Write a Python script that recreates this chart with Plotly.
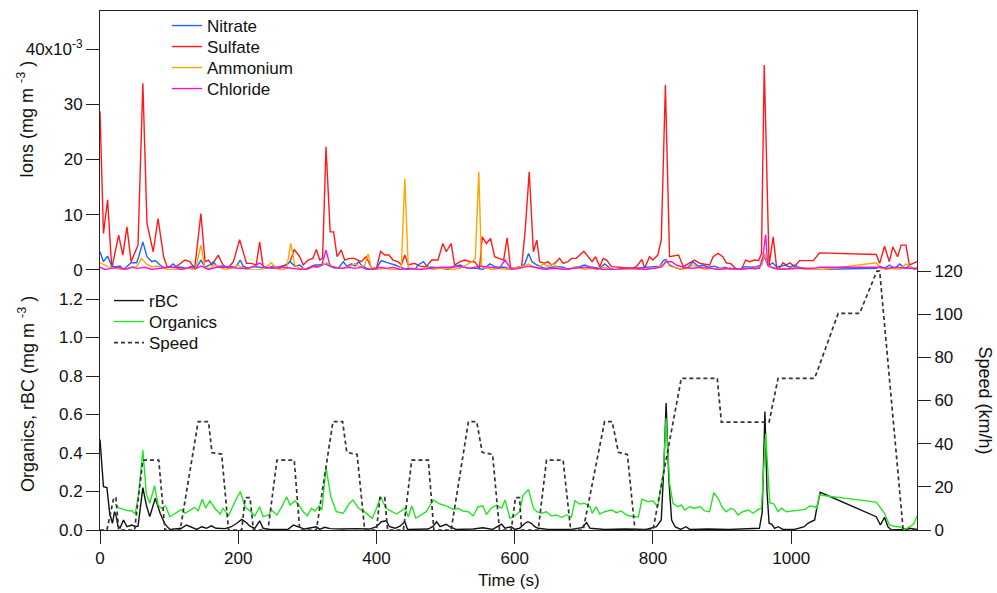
import plotly.graph_objects as go

# ---------------- data ----------------
# Ions (values in 10^-3 mg m^-3), time in s
sulfate_t = [0,5,11,17,27,33,39,45,55,62,68,77,84,92,97,108,123,130,137,146,152,157,162,171,178,185,193,202,212,219,226,231,236,248,260,270,275,281,289,294,301,308,313,318,322,327,333,338,343,349,354,361,368,373,378,385,393,400,406,412,418,424,431,436,441,446,455,463,472,480,489,496,501,508,513,521,528,535,542,549,553,559,565,571,578,584,589,594,600,610,615,621,627,632,636,643,648,653,658,665,670,677,682,689,700,707,712,717,723,728,733,740,750,759,769,776,784,788,795,800,807,812,818,824,831,837,844,851,860,868,875,882,887,894,901,906,913,921,928,934,940,947,953,957,961,968,974,979,983,988,993,998,1005,1012,1022,1032,1041,1123,1128,1135,1142,1147,1154,1159,1166,1171,1178,1182]
sulfate_v = [28.7,6.6,12.7,0.3,6.3,2.7,7.8,1.5,4.5,33.8,8.4,3.3,9.3,2.4,0.6,0.4,1.8,1.5,0.3,10.2,1.5,1.8,0.9,2.7,0.9,0.3,1.5,5.5,1.2,1.2,0.9,5.1,0.6,0.3,0.6,0.9,1.5,3.7,2.4,0.9,1.8,2.1,3.7,1.8,2.1,22.3,6.9,6.9,2.4,3.6,1.8,2.1,2.1,1.8,1.5,2.4,0.3,0.3,3.4,2.7,2.7,1.8,1.5,0.9,2.7,0.9,1.2,0.7,0.6,1.8,1.8,4.8,3.3,4.8,0.9,1.5,1.8,1.5,1.5,0.3,6.0,4.8,5.7,2.4,2.1,1.8,5.8,0.4,0.3,0.6,7.0,17.8,3.3,5.4,1.5,1.2,1.5,0.9,1.2,2.1,1.2,1.5,2.1,2.1,3.4,2.4,1.5,2.4,0.6,2.1,1.8,0.6,0.5,0.5,0.3,0.6,1.9,0.3,2.4,1.8,2.7,5.4,33.5,2.4,2.5,2.7,0.6,1.1,1.8,1.2,1.1,0.9,2.4,3.0,2.4,1.3,1.1,0.1,0.1,1.8,1.5,1.8,1.7,3.0,37.1,0.9,6.0,0.3,0.3,1.3,0.9,1.3,0.6,1.7,1.7,1.7,3.1,2.8,1.2,4.3,1.5,4.2,2.4,4.5,4.5,0.9,1.3,1.5]

nitrate_t = [0,5,11,17,24,29,34,41,45,53,56,62,68,75,80,87,94,101,106,111,118,125,133,140,146,152,159,164,169,176,182,188,196,203,207,215,222,231,240,251,260,268,275,282,289,296,304,311,318,325,333,340,346,352,357,364,369,374,378,386,393,400,407,415,419,427,434,444,456,460,468,474,482,494,504,511,521,528,535,545,554,564,571,578,586,595,603,610,615,620,625,632,639,646,653,663,670,677,687,694,701,708,716,723,730,738,745,754,764,774,783,793,803,810,815,819,824,831,841,851,858,865,873,880,889,897,904,911,918,925,933,942,950,957,961,967,973,979,986,991,998,1005,1010,1017,1027,1036,1041,1123,1128,1135,1142,1150,1157,1164,1171,1178,1182]
nitrate_v = [3.3,1.5,2.5,0.7,0.6,0.7,0.1,0.9,1.3,1.3,2.4,5.1,2.4,1.5,1.7,0.9,0.3,0.6,1.1,0.5,0.5,0.3,0.7,0.5,1.8,0.5,0.9,1.5,0.7,0.7,0.6,0.5,0.5,1.8,0.7,0.3,0.6,0.5,0.3,0.7,0.3,0.9,1.5,0.7,0.9,0.1,0.6,0.9,0.9,1.1,0.7,0.3,0.5,1.5,0.7,1.1,0.7,1.5,0.9,0.3,0.1,0.3,1.7,1.3,1.2,0.9,0.5,0.1,0.1,0.9,1.5,0.5,0.5,0.3,0.1,0.6,0.9,0.5,0.3,0.3,0.1,1.1,0.6,0.5,0.5,0.1,0.5,0.6,1.2,3.0,1.5,0.9,0.5,0.3,0.5,0.6,0.5,0.1,0.5,0.6,0.9,0.6,0.5,0.3,1.1,0.3,0.0,0.1,0.3,0.3,0.5,0.6,0.7,0.7,1.7,1.9,0.9,0.5,0.1,0.5,1.5,0.7,0.9,0.5,0.7,0.3,0.5,0.1,0.3,0.1,0.6,0.5,0.6,0.9,2.5,0.7,1.3,0.6,0.7,0.9,0.5,0.9,0.5,0.3,0.1,0.1,0.1,0.3,0.7,0.3,0.9,0.3,1.1,0.3,0.7,0.1,0.3]

ammonium_t = [0,12,22,34,46,53,60,67,75,84,92,99,108,118,128,138,146,152,159,166,173,181,190,200,207,214,229,238,248,255,262,270,276,282,289,298,308,316,323,328,335,343,352,361,369,376,383,388,393,403,412,422,431,436,441,446,453,463,472,482,492,501,511,521,530,538,543,548,552,559,569,578,588,596,605,612,620,627,634,641,648,656,663,673,682,692,701,711,721,730,740,750,759,769,779,788,798,807,815,819,824,831,841,851,858,865,875,885,892,901,911,921,930,940,949,957,962,967,974,981,991,1000,1010,1020,1032,1041,1123,1128,1137,1147,1157,1166,1174,1182]
ammonium_v = [1.3,0.6,0.3,0.0,0.5,0.6,2.1,1.1,0.6,0.7,0.3,0.1,0.0,0.1,0.3,0.0,4.5,0.3,0.3,0.9,0.5,0.1,0.3,0.9,0.3,0.0,0.0,0.3,1.3,0.3,0.0,0.3,4.8,0.9,0.3,0.1,0.5,0.6,0.9,1.3,0.7,0.3,0.3,0.6,1.2,0.5,0.9,2.9,0.1,0.1,0.3,0.1,0.1,0.6,16.5,0.3,0.1,0.1,0.5,0.1,0.3,0.3,0.1,0.3,0.9,1.5,2.1,17.8,0.6,0.3,0.1,0.3,0.1,0.3,0.5,0.7,1.1,0.6,0.3,1.1,0.6,1.1,0.3,0.1,0.3,0.5,0.1,0.3,0.1,0.5,0.1,0.0,0.1,0.0,0.1,0.0,0.3,0.5,0.9,1.7,0.7,0.5,0.1,0.3,0.9,0.5,0.1,0.3,0.1,0.3,0.1,0.0,0.1,0.3,0.1,0.9,3.0,0.6,0.5,0.1,0.3,0.1,0.3,0.1,0.1,0.0,1.3,0.5,0.1,0.3,0.1,1.1,0.5,0.0]

chloride_t = [0,7,17,26,36,46,55,65,75,87,97,108,118,130,140,146,157,169,181,190,200,212,224,231,238,253,265,277,292,299,308,314,321,327,333,340,349,359,369,378,386,395,405,415,424,434,448,463,477,492,506,521,535,549,564,578,586,595,607,619,629,643,658,672,687,701,716,730,745,759,774,788,802,812,819,827,834,844,856,870,885,896,911,925,940,954,959,963,966,974,988,1003,1017,1032,1041,1123,1137,1152,1166,1182]
chloride_v = [0.5,0.1,0.3,0.5,0.1,0.5,0.3,0.5,0.1,0.3,0.5,0.5,0.1,0.5,0.3,0.7,0.1,0.5,0.5,0.5,0.3,0.3,0.7,1.3,0.5,0.3,0.5,0.3,0.1,0.1,0.7,0.5,0.9,3.6,0.7,0.5,0.3,0.5,0.3,0.5,0.1,0.1,0.5,0.3,0.5,0.1,0.3,0.1,0.3,0.5,0.5,0.6,0.3,0.7,0.5,0.3,1.8,0.1,0.3,0.7,0.5,0.1,0.3,0.1,0.3,0.5,0.3,0.1,0.1,0.3,0.3,0.1,0.3,0.5,1.5,1.5,0.9,0.5,0.3,0.5,0.3,0.1,0.3,0.1,0.3,0.3,2.4,6.4,0.9,0.3,0.1,0.3,0.3,0.3,0.5,0.5,0.3,0.5,0.3,0.3]

# rBC and organics (mg m^-3)
rbc_t = [0,5,10,14,18,21,23,26,29,34,39,46,51,55,62,67,72,80,87,94,101,118,125,133,140,147,154,161,168,181,190,198,205,212,217,224,231,236,244,256,272,280,287,296,313,318,325,333,350,370,390,400,407,414,419,427,434,441,445,460,475,482,487,492,501,506,515,540,554,568,581,586,595,600,607,615,619,624,629,634,648,682,697,704,709,730,760,790,798,805,812,816,819,823,827,832,840,848,853,880,910,940,954,958,962,965,968,972,976,981,988,1005,1019,1024,1029,1034,1037,1042,1123,1129,1135,1140,1145,1162,1171,1182]
rbc_v = [0.47,0.225,0.22,0.087,0.035,0.095,0.078,0.02,0.01,0.052,0.017,0.026,0.017,0.02,0.22,0.13,0.07,0.165,0.087,0.03,0.003,0.009,0.026,0.012,0.003,0.017,0.009,0.022,0.009,0.007,0.017,0.035,0.055,0.038,0.02,0.009,0.048,0.009,0.003,0.003,0.003,0.026,0.017,0.005,0.017,0.003,0.014,0.007,0.005,0.007,0.005,0.017,0.043,0.048,0.017,0.009,0.02,0.043,0.003,0.003,0.005,0.02,0.043,0.017,0.03,0.017,0.003,0.005,0.012,0.003,0.03,0.009,0.017,0.003,0.009,0.035,0.043,0.035,0.017,0.009,0.003,0.003,0.012,0.038,0.009,0.003,0.005,0.003,0.009,0.017,0.052,0.346,0.66,0.26,0.052,0.017,0.003,0.017,0.003,0.005,0.003,0.005,0.009,0.09,0.615,0.2,0.035,0.03,0.009,0.017,0.003,0.003,0.017,0.035,0.043,0.052,0.113,0.196,0.069,0.026,0.066,0.017,0.0,0.003,0.009,0.003]

org_t = [22,27,34,41,46,51,56,62,67,72,79,84,89,95,101,111,118,123,130,137,142,148,153,159,166,174,178,186,195,203,210,217,224,231,236,244,248,256,263,270,275,282,289,294,300,306,311,317,321,327,334,342,352,361,366,374,381,388,394,400,406,414,422,429,436,441,446,451,457,465,472,482,492,501,511,518,525,533,540,547,554,559,566,574,581,586,593,600,607,612,620,627,632,639,646,653,660,668,675,682,687,694,701,709,712,718,723,730,740,747,754,762,771,779,784,793,800,807,815,819,824,829,836,841,846,853,860,868,875,882,888,894,901,906,913,918,923,930,938,945,952,957,963,969,975,981,986,993,1003,1012,1020,1027,1034,1037,1041,1123,1128,1135,1142,1152,1158,1164,1171,1177,1182]
org_v = [0.135,0.116,0.107,0.1,0.1,0.083,0.19,0.415,0.19,0.139,0.23,0.13,0.112,0.125,0.069,0.09,0.107,0.087,0.104,0.118,0.1,0.16,0.113,0.152,0.113,0.083,0.113,0.073,0.147,0.2,0.118,0.1,0.073,0.121,0.069,0.078,0.104,0.078,0.121,0.173,0.13,0.152,0.125,0.095,0.073,0.113,0.099,0.125,0.104,0.326,0.173,0.095,0.087,0.139,0.156,0.113,0.099,0.078,0.061,0.113,0.173,0.113,0.095,0.083,0.1,0.113,0.069,0.125,0.061,0.078,0.095,0.156,0.135,0.125,0.107,0.113,0.099,0.095,0.073,0.121,0.125,0.081,0.113,0.13,0.113,0.156,0.061,0.073,0.095,0.18,0.21,0.113,0.095,0.087,0.095,0.073,0.078,0.066,0.078,0.066,0.152,0.135,0.139,0.121,0.087,0.121,0.083,0.095,0.104,0.09,0.099,0.078,0.069,0.069,0.16,0.147,0.152,0.121,0.294,0.58,0.242,0.139,0.121,0.13,0.104,0.121,0.113,0.121,0.099,0.095,0.194,0.165,0.113,0.095,0.113,0.104,0.078,0.095,0.104,0.087,0.107,0.113,0.5,0.142,0.135,0.095,0.113,0.095,0.1,0.104,0.107,0.125,0.121,0.113,0.182,0.145,0.121,0.087,0.026,0.017,0.017,0.0,0.017,0.03,0.073]

# Vehicle speed (km/h)
speed_t = [0,10,20,23,27,50,62,85,94,116,142,157,162,176,186,205,210,217,222,243,256,281,289,313,337,351,357,372,383,400,405,412,416,439,451,475,483,508,533,545,553,568,578,595,601,607,610,634,646,670,681,699,730,741,750,763,774,800,841,893,899,968,981,1034,1068,1099,1124,1128,1162,1182]
speed_v = [0,0,15,15,0,0,32.4,32.4,0,0,50.2,50.2,35.8,35.2,0,0,15,15,0,0,32.4,32.4,0,0,50.2,50.2,36,35,0,0,15,15,0,0,32.4,32.4,0,0,50.2,50.2,36,35,0,0,15,15,0,0,32.4,32.4,0,0,50.2,50.2,36,35,0,0,70.3,70.3,50,50,70.3,70.3,100.4,100.4,120,120,0,0]

# axis ticks
x_ticks = [0, 200, 400, 600, 800, 1000]
ion_ticks = [0, 0.01, 0.02, 0.03, 0.04]
ion_ticktext = ["0", "10", "20", "30", "40x10<sup>-3</sup>"]
conc_ticks = [0.0, 0.2, 0.4, 0.6, 0.8, 1.0, 1.2]
speed_ticks = [0, 20, 40, 60, 80, 100, 120]

ION_SCALE = 1e-3

# ---------------- figure ----------------
FONT = "Liberation Sans, Arial, sans-serif"
FS = 17
AX = "#222222"

fig = go.Figure()

# (name, t, v, colour, legend id, legend centre y in paper units)
ion_series = [
    ("Nitrate", nitrate_t, nitrate_v, "#2062ff", "legend", 0.9711),
    ("Sulfate", sulfate_t, sulfate_v, "#ff1a1a", "legend2", 0.9306),
    ("Ammonium", ammonium_t, ammonium_v, "#ffa500", "legend3", 0.8902),
    ("Chloride", chloride_t, chloride_v, "#ff10d8", "legend4", 0.8497),
]
draw_order = ["Sulfate", "Nitrate", "Ammonium", "Chloride"]
lookup = {s[0]: s for s in ion_series}
for name in draw_order:
    _, t, v, c, lg, _y = lookup[name]
    fig.add_trace(go.Scatter(
        x=t, y=[val * ION_SCALE for val in v], name=name, mode="lines",
        line=dict(color=c, width=1.4), xaxis="x2", yaxis="y2", legend=lg,
    ))

fig.add_trace(go.Scatter(x=rbc_t, y=rbc_v, name="rBC", mode="lines",
                         line=dict(color="#111111", width=1.4),
                         xaxis="x", yaxis="y", legend="legend5"))
fig.add_trace(go.Scatter(x=org_t, y=org_v, name="Organics", mode="lines",
                         line=dict(color="#22e622", width=1.4),
                         xaxis="x", yaxis="y", legend="legend6"))
fig.add_trace(go.Scatter(x=speed_t, y=speed_v, name="Speed", mode="lines",
                         line=dict(color="#333333", width=1.7, dash="4px,3px"),
                         xaxis="x", yaxis="y3", legend="legend7"))

axis_common = dict(showgrid=False, zeroline=False, showline=True, linecolor=AX,
                   linewidth=1, ticks="outside", ticklen=13, tickcolor=AX,
                   tickfont=dict(family=FONT, size=FS, color="#111"))

def one_legend(x, y):
    return dict(x=x, y=y, xanchor="left", yanchor="middle",
                bgcolor="rgba(0,0,0,0)", font=dict(family=FONT, size=FS),
                tracegroupgap=0, itemwidth=30)

legend_layout = {}
for _, _t, _v, _c, lg, ly in ion_series:
    legend_layout[lg] = one_legend(0.082, ly)
legend_layout["legend5"] = one_legend(0.011, 0.4412)
legend_layout["legend6"] = one_legend(0.011, 0.4008)
legend_layout["legend7"] = one_legend(0.011, 0.3603)

fig.update_layout(
    width=997, height=593,
    margin=dict(l=100, r=80, t=11, b=63, autoexpand=False),
    paper_bgcolor="white", plot_bgcolor="white",
    font=dict(family=FONT, size=FS, color="#111"),
    xaxis=dict(domain=[0, 1], range=[0, 1182], anchor="y",
               tickvals=x_ticks, **axis_common),
    xaxis2=dict(domain=[0, 1], range=[0, 1182], anchor="y2", side="top",
                showgrid=False, zeroline=False, showline=True, linecolor=AX,
                linewidth=1.2, ticks="", showticklabels=False),
    yaxis=dict(domain=[0, 0.501], range=[0, 1.351], anchor="x",
               tickvals=conc_ticks, tickformat=".1f", **axis_common),
    yaxis2=dict(domain=[0.501, 1], range=[0, 0.0469], anchor="x2",
                tickvals=ion_ticks, ticktext=ion_ticktext, mirror=True,
                **axis_common),
    yaxis3=dict(range=[0, 120.5], overlaying="y", side="right", anchor="x",
                tickvals=speed_ticks, **axis_common),
    showlegend=True,
    annotations=[
        dict(text="Ions (mg m <sup>-3</sup> )", xref="paper", yref="paper",
             x=-0.0905, y=0.79, textangle=-90, showarrow=False,
             xanchor="center", yanchor="middle", font=dict(family=FONT, size=18)),
        dict(text="Organics, rBC (mg m <sup>-3</sup> )", xref="paper", yref="paper",
             x=-0.0905, y=0.262, textangle=-90, showarrow=False,
             xanchor="center", yanchor="middle", font=dict(family=FONT, size=18)),
        dict(text="Speed (km/h)", xref="paper", yref="paper",
             x=1.083, y=0.25, textangle=90, showarrow=False,
             xanchor="center", yanchor="middle", font=dict(family=FONT, size=18)),
        dict(text="Time (s)", xref="paper", yref="paper",
             x=0.5, y=-0.097, showarrow=False,
             xanchor="center", yanchor="middle", font=dict(family=FONT, size=FS)),
    ],
    **legend_layout,
)

fig.write_html("out.html")
